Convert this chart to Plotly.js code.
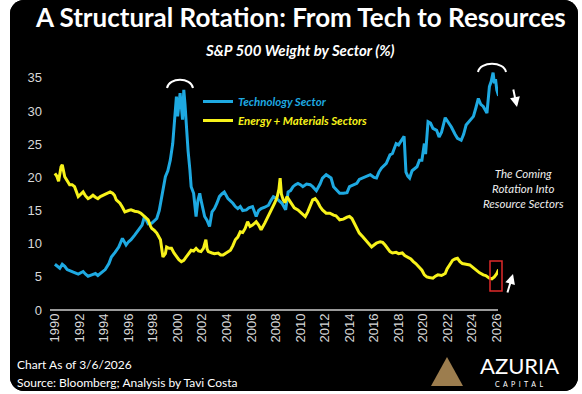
<!DOCTYPE html>
<html>
<head>
<meta charset="utf-8">
<script src="https://cdn.plot.ly/plotly-3.0.1.min.js"></script>
<style>
html,body{margin:0;padding:0;background:#ffffff;}
#wrap{position:absolute;left:10px;top:0px;width:568px;height:391px;background:#000;border-radius:14px;overflow:hidden;}
#chart{width:568px;height:391px;}
</style>
</head>
<body>
<div id="wrap"><div id="chart"></div></div>
<script>
const techYears = [1990.0,1990.2,1990.4,1990.6,1990.8,1991.0,1991.2,1991.5,1991.9,1992.1,1992.3,1992.5,1992.7,1993.0,1993.3,1993.5,1993.8,1994.1,1994.4,1994.6,1994.9,1995.2,1995.5,1995.8,1996.0,1996.2,1996.5,1996.7,1997.1,1997.3,1997.6,1997.9,1998.1,1998.3,1998.5,1998.7,1999.0,1999.2,1999.4,1999.6,1999.75,1999.9,2000.0,2000.2,2000.4,2000.5,2000.6,2000.7,2000.85,2001.0,2001.1,2001.3,2001.5,2001.65,2001.8,2001.9,2002.1,2002.2,2002.4,2002.6,2002.8,2003.0,2003.2,2003.4,2003.6,2003.8,2004.1,2004.3,2004.5,2004.7,2004.9,2005.1,2005.3,2005.6,2005.8,2006.1,2006.2,2006.4,2006.6,2006.8,2007.1,2007.4,2007.6,2007.8,2008.0,2008.2,2008.5,2008.8,2009.0,2009.2,2009.4,2009.6,2009.8,2010.0,2010.2,2010.5,2010.8,2011.0,2011.3,2011.6,2011.8,2012.1,2012.3,2012.5,2012.7,2013.0,2013.2,2013.5,2013.8,2014.0,2014.3,2014.6,2014.8,2015.1,2015.4,2015.7,2016.0,2016.2,2016.4,2016.6,2017.0,2017.3,2017.5,2017.8,2018.0,2018.2,2018.45,2018.6,2018.75,2018.9,2019.1,2019.3,2019.5,2019.7,2019.9,2020.1,2020.2,2020.4,2020.6,2020.8,2021.1,2021.3,2021.5,2021.8,2022.0,2022.3,2022.6,2022.8,2023.1,2023.3,2023.5,2023.8,2024.1,2024.3,2024.5,2024.7,2024.9,2025.2,2025.3,2025.4,2025.55,2025.7,2025.8,2025.9,2026.0,2026.15];
const techWeight = [6.9,6.6,6.3,6.9,6.6,6.1,5.9,5.7,5.4,5.6,5.8,5.4,5.1,5.3,5.5,5.2,5.6,6.1,7.0,8.0,8.7,9.5,10.8,9.8,10.3,10.6,11.3,11.8,12.8,14.1,13.0,13.1,13.5,13.8,15.0,17.1,20.1,21.0,22.6,25.1,28.5,32.2,29.2,32.7,28.7,33.2,31.0,27.6,24.0,21.1,18.6,17.6,14.1,16.5,17.6,16.6,15.0,14.1,13.5,12.6,14.8,15.3,16.1,17.1,17.5,17.8,16.8,16.5,16.1,15.6,15.3,15.6,15.0,15.1,15.4,15.6,15.0,14.1,15.0,15.3,15.5,15.8,16.5,17.1,16.9,16.6,16.1,15.1,17.8,18.0,18.6,18.9,19.1,18.9,18.6,19.0,18.9,18.6,18.0,19.0,19.9,20.4,20.1,19.9,18.6,17.9,17.6,17.6,17.7,18.6,18.9,19.1,19.7,19.9,20.2,20.4,20.0,19.9,20.8,21.4,22.1,23.4,23.6,25.1,24.9,25.5,26.2,20.8,20.2,19.9,21.0,21.3,21.6,22.6,22.6,25.1,23.5,28.4,28.2,27.4,27.1,26.1,26.8,29.0,28.5,27.6,26.5,25.9,25.6,26.5,27.9,28.5,29.2,30.5,31.9,31.0,30.7,29.7,31.5,33.7,34.5,35.8,34.2,34.8,33.2,32.3];

const resYears = [1990.0,1990.15,1990.3,1990.5,1990.6,1990.8,1991.0,1991.2,1991.4,1991.6,1991.9,1992.1,1992.3,1992.5,1992.7,1992.9,1993.1,1993.3,1993.5,1993.7,1993.9,1994.2,1994.5,1994.7,1994.85,1995.0,1995.3,1995.5,1995.7,1996.0,1996.2,1996.5,1996.8,1997.0,1997.2,1997.4,1997.6,1997.8,1997.9,1998.1,1998.3,1998.6,1998.8,1999.0,1999.1,1999.3,1999.5,1999.7,1999.9,2000.1,2000.3,2000.5,2000.7,2000.9,2001.1,2001.3,2001.5,2001.7,2001.9,2002.1,2002.3,2002.4,2002.5,2002.8,2003.0,2003.3,2003.5,2003.7,2004.0,2004.3,2004.5,2004.7,2004.9,2005.1,2005.3,2005.5,2005.7,2005.9,2006.1,2006.4,2006.6,2006.8,2007.1,2007.3,2007.5,2007.7,2007.9,2008.1,2008.25,2008.35,2008.45,2008.6,2008.75,2008.9,2009.1,2009.3,2009.5,2009.8,2010.1,2010.4,2010.6,2010.8,2011.0,2011.2,2011.4,2011.6,2011.8,2012.1,2012.4,2012.7,2012.9,2013.2,2013.5,2013.8,2014.0,2014.2,2014.4,2014.6,2014.8,2015.1,2015.4,2015.6,2015.8,2016.0,2016.2,2016.5,2016.7,2016.9,2017.0,2017.3,2017.5,2017.8,2018.0,2018.3,2018.5,2018.7,2019.0,2019.2,2019.4,2019.7,2019.9,2020.1,2020.3,2020.5,2020.8,2021.0,2021.2,2021.5,2021.8,2021.95,2022.2,2022.4,2022.6,2022.8,2023.0,2023.2,2023.5,2023.8,2024.0,2024.3,2024.6,2024.9,2025.1,2025.4,2025.6,2025.8,2026.0,2026.15];
const resWeight = [20.6,20.2,19.4,21.6,21.9,20.1,19.5,18.9,18.9,18.6,17.1,17.5,17.8,17.2,16.8,17.0,17.3,17.0,16.8,17.1,17.3,17.5,17.8,17.6,17.3,16.6,16.1,15.5,14.8,15.0,15.1,14.9,14.8,14.6,14.3,14.0,13.6,12.6,12.3,12.0,11.6,10.6,8.0,8.5,9.5,9.3,9.3,8.6,8.0,7.6,7.3,7.5,8.0,8.6,9.0,8.9,9.3,8.9,8.8,9.3,10.6,9.2,8.8,8.6,8.5,8.6,8.3,8.3,8.6,9.0,9.7,10.6,11.0,11.8,11.7,12.3,13.3,12.6,12.8,13.3,12.8,12.1,13.1,13.8,14.6,15.2,16.1,17.0,18.2,19.9,17.5,16.6,16.2,17.1,16.5,15.8,15.4,15.1,14.6,14.1,14.8,15.6,16.6,16.8,16.3,15.6,15.1,14.6,14.6,14.3,14.2,13.6,13.7,14.0,14.1,13.8,13.1,12.2,11.6,11.0,10.4,10.0,9.5,9.8,10.1,10.3,10.2,9.8,9.5,8.8,8.6,8.7,8.5,8.6,8.2,8.0,7.7,7.3,7.0,6.4,6.0,5.3,5.0,4.9,4.8,5.1,5.3,5.2,5.5,6.2,7.0,7.5,7.7,7.8,7.3,7.0,6.9,6.8,6.5,6.0,5.6,5.3,5.2,4.8,4.7,5.0,5.5,6.1];

const yTicks = [0,5,10,15,20,25,30,35];
const xTicks = [1990,1992,1994,1996,1998,2000,2002,2004,2006,2008,2010,2012,2014,2016,2018,2020,2022,2024,2026];

const BLUE = '#1ea9e1';
const YEL = '#f7f21a';
const FONT = 'Lato, "Open Sans", sans-serif';

const traces = [
  {x: techYears, y: techWeight, type: 'scatter', mode: 'lines',
   name: '<span style="color:' + BLUE + '"><b><i>Technology Sector</i></b></span>',
   line: {color: BLUE, width: 3}},
  {x: resYears, y: resWeight, type: 'scatter', mode: 'lines',
   name: '<span style="color:' + YEL + '"><b><i>Energy + Materials Sectors</i></b></span>',
   line: {color: YEL, width: 3}}
];

// page px -> paper helpers (plot area: page x 50..498, y 65..310)
function px(x){ return (x - 50) / 448; }
function py(y){ return (310 - y) / 245; }

const layout = {
  width: 568, height: 391,
  paper_bgcolor: '#000', plot_bgcolor: '#000',
  margin: {l: 40, r: 80, t: 65, b: 81},
  showlegend: true,
  legend: {x: px(198), y: py(87), xanchor: 'left', yanchor: 'top',
           bgcolor: 'rgba(0,0,0,0)', font: {family: FONT, size: 11.5, color: '#fff'},
           itemwidth: 30, tracegroupgap: 0},
  xaxis: {range: [1989.6, 2026.1], tickvals: xTicks, ticktext: xTicks.map(String),
          tickangle: -90, tickfont: {family: 'Liberation Sans, Arial, sans-serif', size: 13, color: '#d8d8d8'},
          showgrid: false, zeroline: false, showline: false, ticks: '', fixedrange: true},
  yaxis: {range: [0, 36.95], tickvals: yTicks, ticktext: yTicks.map(String),
          tickfont: {family: 'Liberation Sans, Arial, sans-serif', size: 13, color: '#d8d8d8'},
          showgrid: false, zeroline: true, zerolinecolor: '#9a9a9a', zerolinewidth: 1.5,
          showline: false, ticks: '', ticklabelstandoff: 7, fixedrange: true},
  shapes: [
    {type: 'path', xref: 'paper', yref: 'paper',
     path: 'M ' + px(167) + ',' + py(88) + ' C ' + px(169) + ',' + py(77) + ' ' + px(191) + ',' + py(77) + ' ' + px(193) + ',' + py(88),
     line: {color: '#fff', width: 2}},
    {type: 'path', xref: 'paper', yref: 'paper',
     path: 'M ' + px(478) + ',' + py(72) + ' C ' + px(480) + ',' + py(61) + ' ' + px(504) + ',' + py(61) + ' ' + px(506) + ',' + py(72),
     line: {color: '#fff', width: 2}},
    {type: 'rect', xref: 'paper', yref: 'paper',
     x0: px(490), x1: px(502), y0: py(291), y1: py(261),
     line: {color: '#e02a2a', width: 1.5}},
    {type: 'path', xref: 'paper', yref: 'paper',
     path: 'M ' + px(447) + ',' + py(357) + ' L ' + px(431) + ',' + py(386) + ' L ' + px(463) + ',' + py(386) + ' Z',
     fillcolor: '#9c7d4e', line: {width: 0}}
  ],
  annotations: [
    {xref: 'paper', yref: 'paper', x: px(300), y: py(17), text: '<b>A Structural Rotation: From Tech to Resources</b>',
     showarrow: false, font: {family: FONT, size: 26, color: '#fff'}, xanchor: 'center', yanchor: 'middle'},
    {xref: 'paper', yref: 'paper', x: px(300), y: py(50), text: '<b><i>S&amp;P 500 Weight by Sector (%)</i></b>',
     showarrow: false, font: {family: FONT, size: 15, color: '#fff'}, xanchor: 'center', yanchor: 'middle'},
    {xref: 'paper', yref: 'paper', x: px(523), y: py(188), text: '<i>The Coming<br>Rotation Into<br>Resource Sectors</i>',
     showarrow: false, font: {family: FONT, size: 11.5, color: '#eeeeee'}, xanchor: 'center', yanchor: 'middle', align: 'center'},
    {xref: 'paper', yref: 'paper', x: px(517), y: py(107), ax: -4, ay: -19, text: '',
     showarrow: true, arrowhead: 2, arrowsize: 1, arrowwidth: 2, arrowcolor: '#fff'},
    {xref: 'paper', yref: 'paper', x: px(513), y: py(274), ax: -6, ay: 20, text: '',
     showarrow: true, arrowhead: 2, arrowsize: 1, arrowwidth: 2, arrowcolor: '#fff'},
    {xref: 'paper', yref: 'paper', x: px(15), y: py(364), text: 'Chart As of 3/6/2026',
     showarrow: false, font: {family: FONT, size: 12, color: '#fff'}, xanchor: 'left', yanchor: 'middle'},
    {xref: 'paper', yref: 'paper', x: px(15), y: py(382), text: 'Source: Bloomberg; Analysis by Tavi Costa',
     showarrow: false, font: {family: FONT, size: 12, color: '#fff'}, xanchor: 'left', yanchor: 'middle'},
    {xref: 'paper', yref: 'paper', x: px(519), y: py(365), text: 'AZURIA',
     showarrow: false, font: {family: FONT, size: 22, color: '#fff'}, xanchor: 'center', yanchor: 'middle'},
    {xref: 'paper', yref: 'paper', x: px(519), y: py(384), text: 'C  A  P  I  T  A  L',
     showarrow: false, font: {family: FONT, size: 7, color: '#fff'}, xanchor: 'center', yanchor: 'middle'}
  ]
};

Plotly.newPlot('chart', traces, layout, {displayModeBar: false, staticPlot: true});
</script>
</body>
</html>
